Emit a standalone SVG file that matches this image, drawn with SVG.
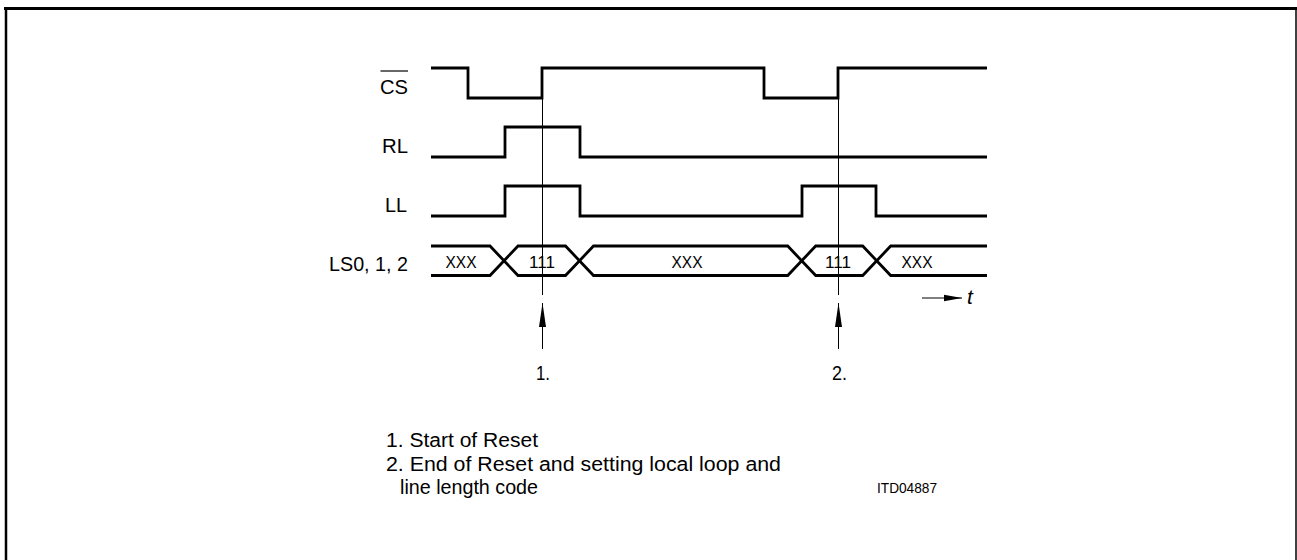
<svg xmlns="http://www.w3.org/2000/svg" width="1297" height="560" viewBox="0 0 1297 560">
<style>
.sig{fill:none;stroke:#000;stroke-width:2.8;stroke-linejoin:miter;stroke-linecap:butt}
.thin{fill:none;stroke:#000;stroke-width:1}
.lbl{font-family:"Liberation Sans",Arial,sans-serif;font-size:21px;fill:#000}
.bus{font-family:"Liberation Sans",Arial,sans-serif;font-size:17px;fill:#000}
.leg{font-family:"Liberation Sans",Arial,sans-serif;font-size:20px;fill:#000}
.code{font-family:"Liberation Sans",Arial,sans-serif;font-size:15px;fill:#000}
</style>
<defs>
<marker id="ah" markerWidth="24" markerHeight="8" refX="24" refY="4" orient="auto" markerUnits="userSpaceOnUse">
<path d="M0,0.5 L24,4 L0,7.5 Z" fill="#000"/>
</marker>
<marker id="ah2" markerWidth="18" markerHeight="8" refX="18" refY="4" orient="auto" markerUnits="userSpaceOnUse">
<path d="M0,0.8 L18,4 L0,7.2 Z" fill="#000"/>
</marker>
</defs>
<g id="frame">
<line x1="4" y1="8.5" x2="1297" y2="8.5" stroke="#000" stroke-width="3"/>
<line x1="6" y1="8" x2="6" y2="560" stroke="#000" stroke-width="2.5"/>
<line x1="1296" y1="8" x2="1296" y2="560" stroke="#000" stroke-width="1.5"/>
</g>
<g id="cs">
<text class="lbl" x="380" y="94" textLength="28" lengthAdjust="spacingAndGlyphs">CS</text>
<line x1="380.5" y1="71" x2="408" y2="71" stroke="#000" stroke-width="1.2"/>
<path class="sig" d="M431,68 H468 V98 H542 V68 H764 V98 H838 V68 H987"/>
</g>
<g id="rl">
<text class="lbl" x="382" y="153" textLength="26" lengthAdjust="spacingAndGlyphs">RL</text>
<path class="sig" d="M431,157 H505 V127 H580 V157 H987"/>
</g>
<g id="ll">
<text class="lbl" x="385" y="212" textLength="22" lengthAdjust="spacingAndGlyphs">LL</text>
<path class="sig" d="M431,216 H505 V186 H580 V216 H802 V186 H876 V216 H987"/>
</g>
<g id="ls">
<text class="lbl" x="329" y="271" textLength="79" lengthAdjust="spacingAndGlyphs">LS0, 1, 2</text>
<path class="sig" d="M431,246 H490 L518,275.5 H565.5 L593.5,246 H787.7 L815.7,275.5 H862.7 L890.7,246 H987"/>
<path class="sig" d="M431,275.5 H490 L518,246 H565.5 L593.5,275.5 H787.7 L815.7,246 H862.7 L890.7,275.5 H987"/>
<text class="bus" x="445.5" y="268" textLength="31" lengthAdjust="spacingAndGlyphs">XXX</text>
<text class="bus" x="529" y="268" textLength="26" lengthAdjust="spacingAndGlyphs">111</text>
<text class="bus" x="671.5" y="268" textLength="31" lengthAdjust="spacingAndGlyphs">XXX</text>
<text class="bus" x="825" y="268" textLength="26" lengthAdjust="spacingAndGlyphs">111</text>
<text class="bus" x="901.5" y="268" textLength="31" lengthAdjust="spacingAndGlyphs">XXX</text>
</g>
<g id="connectors">
<line class="thin" x1="542.5" y1="98" x2="542.5" y2="295"/>
<line class="thin" x1="838.5" y1="98" x2="838.5" y2="295"/>
<line class="thin" x1="542.5" y1="349" x2="542.5" y2="303" marker-end="url(#ah)"/>
<line class="thin" x1="838.5" y1="349" x2="838.5" y2="303" marker-end="url(#ah)"/>
<line class="thin" x1="922" y1="298" x2="962" y2="298" marker-end="url(#ah2)"/>
</g>
<g id="marks">
<text class="lbl" x="536" y="380" textLength="14" lengthAdjust="spacingAndGlyphs">1.</text>
<text class="lbl" x="832" y="380" textLength="15" lengthAdjust="spacingAndGlyphs">2.</text>
<text class="lbl" x="967" y="304" font-style="italic">t</text>
</g>
<g id="legend">
<text class="leg" x="386" y="447" textLength="152" lengthAdjust="spacingAndGlyphs">1. Start of Reset</text>
<text class="leg" x="386" y="470.5" textLength="395" lengthAdjust="spacingAndGlyphs">2. End of Reset and setting local loop and</text>
<text class="leg" x="400" y="494" textLength="138" lengthAdjust="spacingAndGlyphs">line length code</text>
<text class="code" x="877" y="493" textLength="60" lengthAdjust="spacingAndGlyphs">ITD04887</text>
</g>
</svg>
